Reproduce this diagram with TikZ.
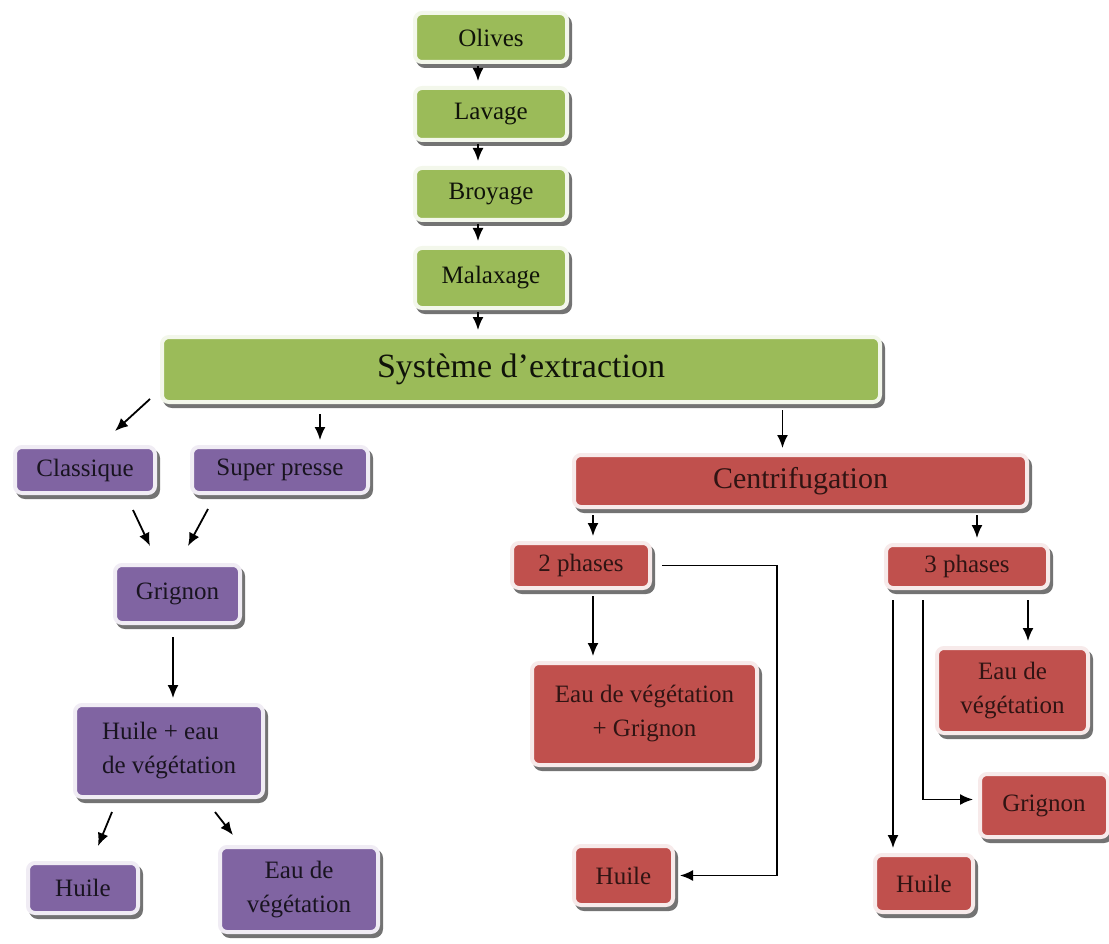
\documentclass[tikz,border=0pt]{standalone}
\usepackage{fontspec}
\setmainfont{Liberation Serif}
\usepackage{xcolor}
\usepackage{tikz}
\usetikzlibrary{arrows.meta}
\usetikzlibrary{positioning}
\usetikzlibrary{calc}

\definecolor{cvert}{RGB}{155,187,89}
\definecolor{crouge}{RGB}{192,80,77}
\definecolor{cmauve}{RGB}{128,100,162}

\begin{document}
\begin{tikzpicture}[x=1pt,y=-1pt,>={Latex[length=13pt,width=11pt]}]
	\tikzstyle{box}=[rounded corners=7pt,line width=4pt,inner sep=3pt,align=center,
		font=\fontsize{25}{34}\selectfont,
		preaction={fill=black!55,draw=black!55,line width=4pt,transform canvas={shift={(3pt,-4pt)}}}]
	\tikzstyle{vert}=[box,fill=cvert,draw=cvert!12!white,text=cvert!10!black]
	\tikzstyle{rouge}=[box,fill=crouge,draw=crouge!12!white,text=crouge!25!black]
	\tikzstyle{mauve}=[box,fill=cmauve,draw=cmauve!12!white,text=cmauve!20!black]
	\tikzstyle{fleche}=[->,line width=1.8pt]
	\tikzstyle{entre}=[fleche,shorten <=6pt,shorten >=5pt]

	\useasboundingbox (0,0) rectangle (1109,944);

	% chaine de preparation
	\foreach \nom/\txt/\y/\h in {olives/Olives/37.5/49,lavage/Lavage/114/52,broyage/Broyage/194/52,malaxage/Malaxage/278/60}
		\node[vert,minimum width=152,minimum height=\h] (\nom) at (491,\y) {\txt};
	\node[vert,minimum width=718,minimum height=65,font=\fontsize{34}{40}\selectfont] (systeme) at (521,369.5) {Système d’extraction};

	% presses
	\node[mauve,minimum width=140,minimum height=46] (classique) at (85,470) {Classique};
	\node[mauve,minimum width=176,minimum height=46] (superpresse) at (280,470) {Super presse};
	\node[mauve,minimum width=125,minimum height=58] (grignon1) at (177.5,594) {Grignon};
	\node[mauve,minimum width=188,minimum height=92,align=left] (huileeau) at (169,751) {Huile + eau\\de végétation};
	\node[mauve,minimum width=110,minimum height=50] (huile1) at (83,888) {Huile};
	\node[mauve,minimum width=158,minimum height=85] (eau1) at (299,889.5) {Eau de\\végétation};

	% centrifugation
	\node[rouge,minimum width=453,minimum height=52,font=\fontsize{30}{36}\selectfont] (centrif) at (800.5,481) {Centrifugation};
	\node[rouge,minimum width=138,minimum height=45] (phases2) at (581,565.5) {2 phases};
	\node[rouge,minimum width=225,minimum height=102] (eaugrignon) at (644.5,714) {Eau de végétation\\+ Grignon};
	\node[rouge,minimum width=99,minimum height=59] (huile2) at (623.5,875.5) {Huile};
	\node[rouge,minimum width=162,minimum height=43] (phases3) at (967,566.5) {3 phases};
	\node[rouge,minimum width=151,minimum height=85] (eau3) at (1012.5,690.5) {Eau de\\végétation};
	\node[rouge,minimum width=128,minimum height=63] (grignon3) at (1044,805.5) {Grignon};
	\node[rouge,minimum width=98,minimum height=57] (huile3) at (924,883.5) {Huile};

	\foreach \a/\b in {olives/lavage,lavage/broyage,broyage/malaxage,malaxage/systeme}
		\draw[entre,shorten <=2pt] ([xshift=-13pt]\a.south) -- ([xshift=-13pt]\a.south |- \b.north);

	\draw[fleche] ([shift={(-10pt,5pt)}]systeme.south west) -- ([shift={(30pt,14pt)}]classique.north);
	\draw[entre,shorten <=10pt] ([xshift=40pt]superpresse.north |- systeme.south) -- ([xshift=40pt]superpresse.north);
	\draw[entre] ([xshift=-18pt]centrif.north |- systeme.south) -- ([xshift=-18pt]centrif.north);
	\draw[fleche] ([shift={(48pt,-15pt)}]classique.south) -- ([shift={(-27.5pt,17pt)}]grignon1.north);
	\draw[fleche] ([shift={(-72pt,-14pt)}]superpresse.south) -- ([shift={(10.5pt,17pt)}]grignon1.north);
	\draw[entre,shorten <=12pt] ([xshift=-4.5pt]grignon1.south) -- ([xshift=-4.5pt]grignon1.south |- huileeau.north);
	\draw[fleche] ([shift={(-57pt,-13pt)}]huileeau.south) -- ([shift={(15pt,15pt)}]huile1.north);
	\draw[fleche] ([shift={(46pt,-13pt)}]huileeau.south) -- ([shift={(-66pt,10pt)}]eau1.north);

	\draw[entre] ([xshift=12pt]phases2.north |- centrif.south) -- ([xshift=12pt]phases2.north);
	\draw[entre] ([xshift=10pt]phases3.north |- centrif.south) -- ([xshift=10pt]phases3.north);
	\draw[entre] ([xshift=12pt]phases2.south) -- ([xshift=12pt]phases2.south |- eaugrignon.north);
	\draw[entre,shorten <=10pt] (phases2.east) -- ++(125pt,0) |- (huile2.east);
	\draw[entre,shorten <=10pt] ([xshift=61pt]phases3.south) -- ([xshift=61pt]phases3.south |- eau3.north);
	\draw[entre,shorten <=10pt] ([xshift=-44pt]phases3.south) |- ([yshift=6pt]grignon3.west);
	\draw[entre,shorten <=10pt] ([xshift=-74pt]phases3.south) -- ([xshift=-74pt]phases3.south |- huile3.north);
\end{tikzpicture}
\end{document}
